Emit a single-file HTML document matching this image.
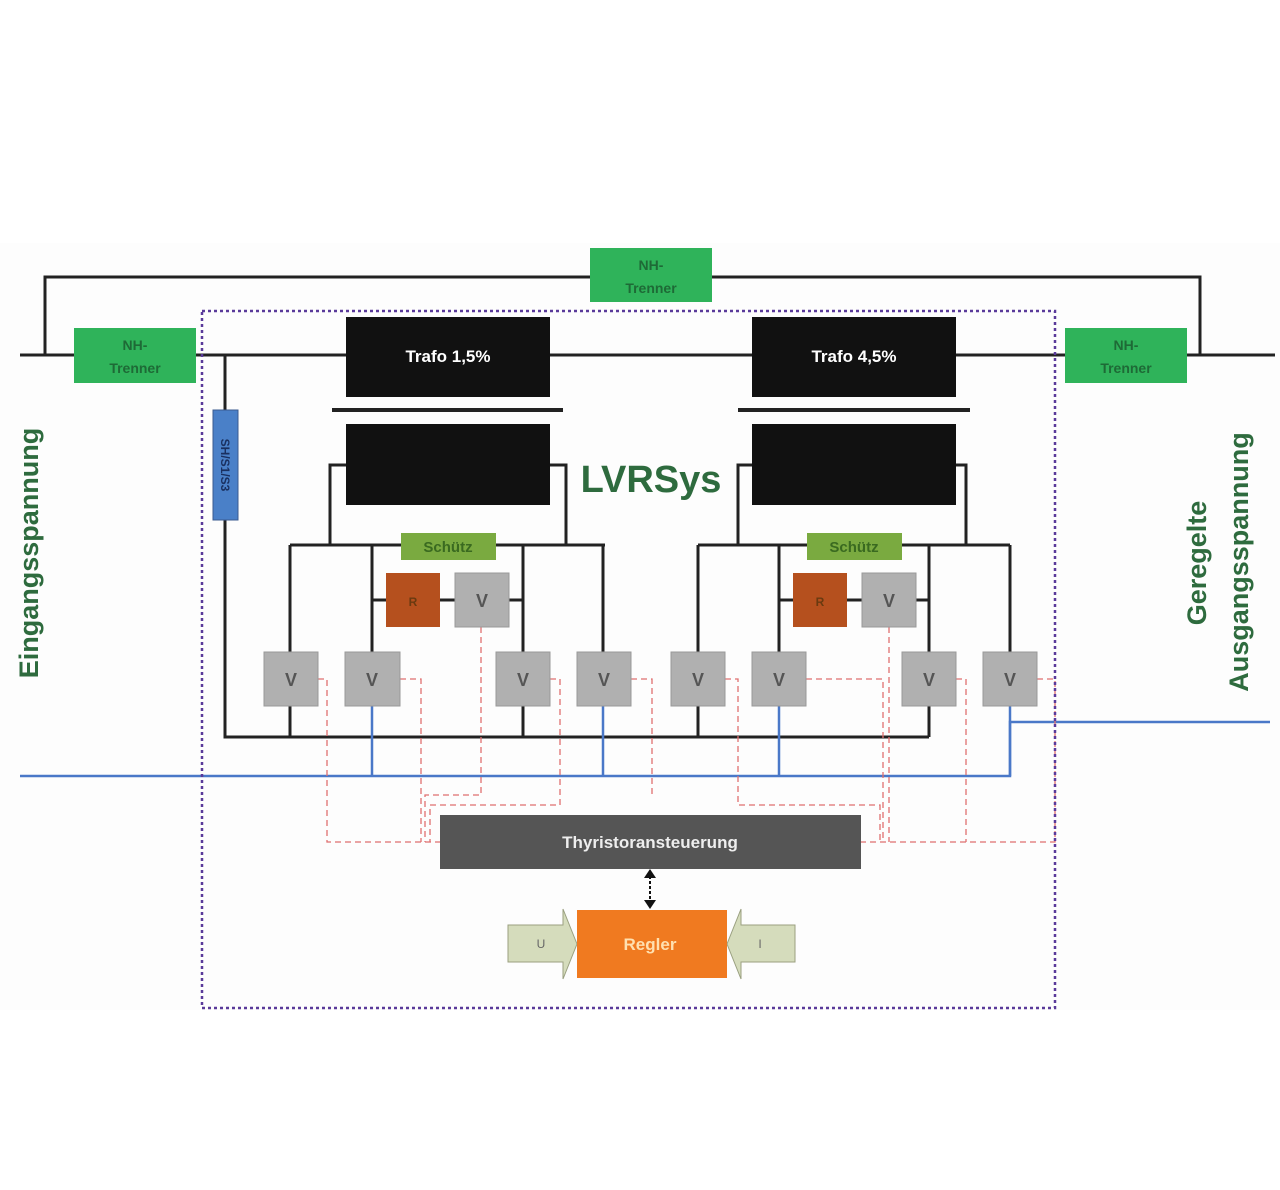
<!DOCTYPE html>
<html><head><meta charset="utf-8"><style>
html,body{margin:0;padding:0;background:#fff;}
svg{display:block;}
text{font-family:"Liberation Sans",sans-serif;}
</style></head><body>
<svg width="1280" height="1190" viewBox="0 0 1280 1190" xmlns="http://www.w3.org/2000/svg">
<rect x="0" y="243" width="1280" height="767" fill="#fdfdfd"/>
<g stroke="#222" stroke-width="3" fill="none">
<polyline points="45,355 45,277 1200,277 1200,355"/>
<line x1="20" y1="355" x2="1275" y2="355"/>
<polyline points="225,355 225,737 929,737"/>
<line x1="225" y1="355" x2="225" y2="737"/>
<polyline points="330,505 330,465 346,465"/>
<polyline points="550,465 566,465 566,545"/>
<line x1="330" y1="465" x2="330" y2="545"/>
<line x1="290" y1="545" x2="605" y2="545"/>
<line x1="290" y1="545" x2="290" y2="737"/>
<line x1="372" y1="545" x2="372" y2="652"/>
<line x1="523" y1="545" x2="523" y2="737"/>
<line x1="603" y1="545" x2="603" y2="652"/>
<line x1="372" y1="600" x2="523" y2="600"/>
<polyline points="738,545 738,465 752,465"/>
<polyline points="956,465 966,465 966,545"/>
<line x1="698" y1="545" x2="1010" y2="545"/>
<line x1="698" y1="545" x2="698" y2="737"/>
<line x1="779" y1="545" x2="779" y2="652"/>
<line x1="929" y1="545" x2="929" y2="737"/>
<line x1="1010" y1="545" x2="1010" y2="652"/>
<line x1="779" y1="600" x2="929" y2="600"/>
<line x1="332" y1="410" x2="563" y2="410" stroke-width="4"/>
<line x1="738" y1="410" x2="970" y2="410" stroke-width="4"/>
</g>
<g stroke="#4a78c8" stroke-width="2.5" fill="none">
<polyline points="20,776 1010,776 1010,722 1270,722"/>
<line x1="372" y1="706" x2="372" y2="776"/>
<line x1="603" y1="706" x2="603" y2="776"/>
<line x1="779" y1="706" x2="779" y2="776"/>
<line x1="1010" y1="706" x2="1010" y2="776"/>
</g>
<g stroke="#e07070" stroke-width="1.3" fill="none" stroke-dasharray="6,4">
<polyline points="318,679 327,679 327,842 440,842"/>
<polyline points="400,679 421,679 421,842"/>
<polyline points="481,627 481,795 425,795 425,842"/>
<polyline points="550,679 560,679 560,805 430,805 430,842"/>
<polyline points="631,679 652,679 652,795"/>
<polyline points="725,679 738,679 738,805 880,805 880,842"/>
<polyline points="806,679 883,679 883,842"/>
<polyline points="889,627 889,842"/>
<polyline points="956,679 966,679 966,842"/>
<polyline points="1037,679 1055,679 1055,842 861,842"/>
</g>
<rect x="202" y="311" width="853" height="697" fill="none" stroke="#5a3a9a" stroke-width="2.5" stroke-dasharray="3,3"/>
<g font-size="14" font-weight="bold" text-anchor="middle">
<rect x="590" y="248" width="122" height="54" fill="#2fb35a"/>
<text x="651" y="270" fill="#1e6a36">NH-</text><text x="651" y="293" fill="#1e6a36">Trenner</text>
<rect x="74" y="328" width="122" height="55" fill="#2fb35a"/>
<text x="135" y="350" fill="#1e6a36">NH-</text><text x="135" y="373" fill="#1e6a36">Trenner</text>
<rect x="1065" y="328" width="122" height="55" fill="#2fb35a"/>
<text x="1126" y="350" fill="#1e6a36">NH-</text><text x="1126" y="373" fill="#1e6a36">Trenner</text>
</g>
<rect x="346" y="317" width="204" height="80" fill="#111"/>
<rect x="346" y="424" width="204" height="81" fill="#111"/>
<rect x="752" y="317" width="204" height="80" fill="#111"/>
<rect x="752" y="424" width="204" height="81" fill="#111"/>
<text x="448" y="362" font-size="17" font-weight="bold" fill="#fff" text-anchor="middle">Trafo 1,5%</text>
<text x="854" y="362" font-size="17" font-weight="bold" fill="#fff" text-anchor="middle">Trafo 4,5%</text>
<text x="651" y="492" font-size="38" font-weight="bold" fill="#2e6b3e" text-anchor="middle">LVRSys</text>
<rect x="213" y="410" width="25" height="110" fill="#4a80c8" stroke="#3a5a90"/>
<text transform="translate(221,465) rotate(90)" font-size="12" font-weight="bold" fill="#1a3060" text-anchor="middle">SH/S1/S3</text>
<g font-size="15" font-weight="bold" text-anchor="middle">
<rect x="401" y="533" width="95" height="27" fill="#7aaa40"/><text x="448" y="552" fill="#3a6a20">Schütz</text>
<rect x="807" y="533" width="95" height="27" fill="#7aaa40"/><text x="854" y="552" fill="#3a6a20">Schütz</text>
</g>
<g fill="#b0b0b0" stroke="#999">
<rect x="455" y="573" width="54" height="54"/><rect x="862" y="573" width="54" height="54"/>
<rect x="264" y="652" width="54" height="54"/><rect x="345" y="652" width="55" height="54"/>
<rect x="496" y="652" width="54" height="54"/><rect x="577" y="652" width="54" height="54"/>
<rect x="671" y="652" width="54" height="54"/><rect x="752" y="652" width="54" height="54"/>
<rect x="902" y="652" width="54" height="54"/><rect x="983" y="652" width="54" height="54"/>
</g>
<rect x="386" y="573" width="54" height="54" fill="#b5501e"/>
<rect x="793" y="573" width="54" height="54" fill="#b5501e"/>
<g font-size="18" font-weight="bold" fill="#555" text-anchor="middle">
<text x="413" y="606" fill="#6a3a10" font-size="12">R</text><text x="820" y="606" fill="#6a3a10" font-size="12">R</text>
<text x="482" y="607">V</text><text x="889" y="607">V</text>
<text x="291" y="686">V</text><text x="372" y="686">V</text><text x="523" y="686">V</text><text x="604" y="686">V</text>
<text x="698" y="686">V</text><text x="779" y="686">V</text><text x="929" y="686">V</text><text x="1010" y="686">V</text>
</g>
<rect x="440" y="815" width="421" height="54" fill="#555"/>
<text x="650" y="848" font-size="17" font-weight="bold" fill="#eee" text-anchor="middle">Thyristoransteuerung</text>
<line x1="650" y1="876" x2="650" y2="902" stroke="#111" stroke-width="2" stroke-dasharray="3,2"/>
<polygon points="644,878 656,878 650,869" fill="#111"/><polygon points="644,900 656,900 650,909" fill="#111"/>
<polygon points="508,925 563,925 563,909 577,944 563,979 563,962 508,962" fill="#d5dcbc" stroke="#9aa080"/>
<polygon points="795,925 741,925 741,909 727,944 741,979 741,962 795,962" fill="#d5dcbc" stroke="#9aa080"/>
<rect x="577" y="910" width="150" height="68" fill="#f07a20"/>
<text x="650" y="950" font-size="17" font-weight="bold" fill="#ffe0b0" text-anchor="middle">Regler</text>
<text x="541" y="948" font-size="12" fill="#666" text-anchor="middle">U</text>
<text x="760" y="948" font-size="12" fill="#666" text-anchor="middle">I</text>
<g font-size="27" font-weight="bold" fill="#2e6b3e" text-anchor="middle">
<text transform="translate(38,553) rotate(-90)">Eingangsspannung</text>
<text transform="translate(1206,563) rotate(-90)">Geregelte</text>
<text transform="translate(1248,562) rotate(-90)">Ausgangsspannung</text>
</g>
</svg>
</body></html>
